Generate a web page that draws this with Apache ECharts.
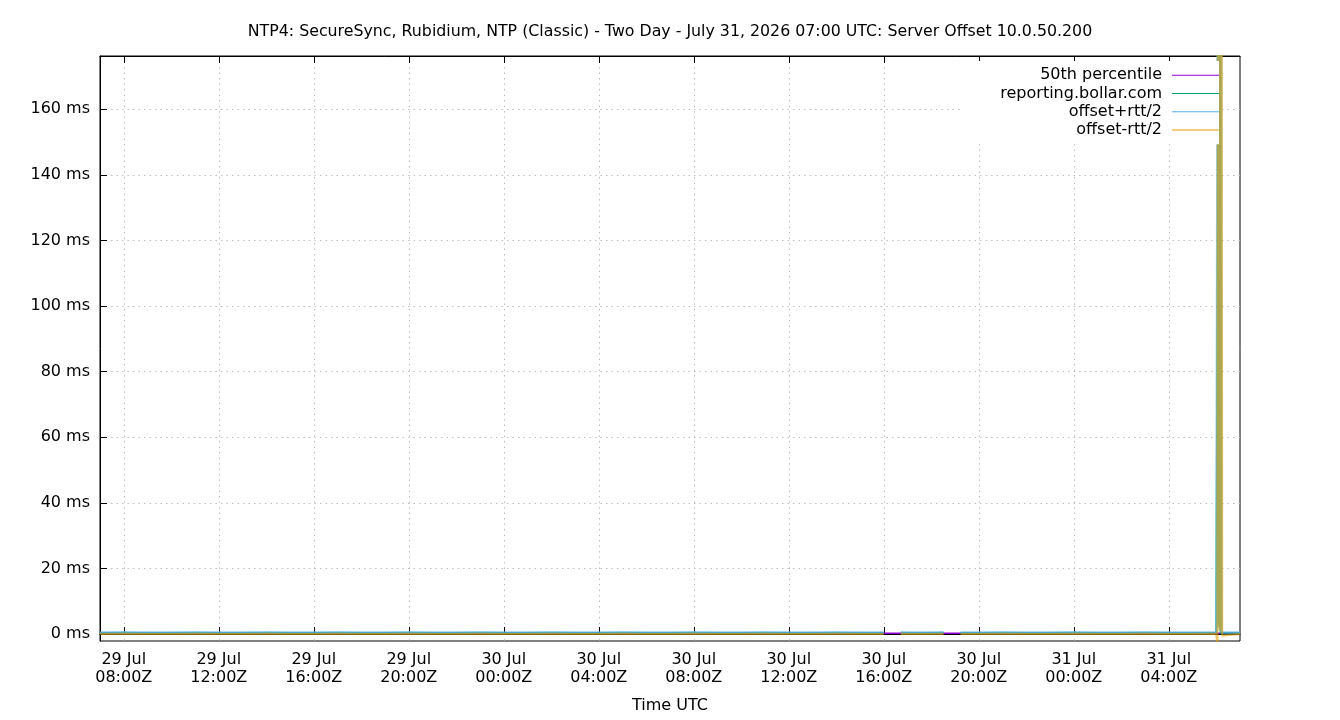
<!DOCTYPE html>
<html>
<head>
<meta charset="utf-8">
<script src="https://cdn.jsdelivr.net/npm/echarts@6/dist/echarts.min.js"></script>
<style>
  html, body { margin: 0; padding: 0; background: #fff; }
  #chart { width: 1340px; height: 720px; }
</style>
</head>
<body>
<div id="chart"></div>
<script>
// hours since 29 Jul 07:00Z
const hours = [
  0, 1, 2, 3, 4, 5, 6, 7, 8, 9, 10, 11, 12, 13, 14, 15, 16, 17, 18, 19,
  20, 21, 22, 23, 24, 25, 26, 27, 28, 29, 30, 31, 32, 33,
  33.02, 33.4, 33.72, 34, 35, 35.52, 35.9, 36.23,
  37, 38, 39, 40, 41, 42, 43, 44, 45, 46, 47,
  47.03, 47.05, 47.07, 47.09, 47.11, 47.13, 47.15, 47.17, 47.19, 47.21, 47.23, 47.25,
  47.3, 48
]

const p50 = [
  0.2, 0.2, 0.2, 0.2, 0.2, 0.2, 0.2, 0.2, 0.2, 0.2, 0.2, 0.2, 0.2, 0.2, 0.2, 0.2, 0.2, 0.2, 0.2, 0.2,
  0.2, 0.2, 0.2, 0.2, 0.2, 0.2, 0.2, 0.2, 0.2, 0.2, 0.2, 0.2, 0.2, 0.2,
  0.2, 0.2, 0.2, 0.2, 0.2, 0.2, 0.2, 0.2,
  0.2, 0.2, 0.2, 0.2, 0.2, 0.2, 0.2, 0.2, 0.2, 0.2, 0.2,
  0.2, 0.2, 0.2, 0.2, 0.2, 0.2, 0.2, 0.3, 0.2, 0.2, 0.2, 0.2,
  0.2, 0.2
]

const reporting = [
  0.25, 0.3, 0.25, 0.3, 0.25, 0.25, 0.3, 0.25, 0.3, 0.25, 0.25, 0.3, 0.25, 0.3, 0.25, 0.25, 0.3, 0.25, 0.3, 0.25,
  0.25, 0.3, 0.25, 0.3, 0.25, 0.25, 0.3, 0.25, 0.3, 0.25, 0.25, 0.3, 0.25, 0.3,
  0.25, null, 0.3, 0.25, 0.3, 0.25, null, 0.3,
  0.25, 0.3, 0.25, 0.3, 0.25, 0.25, 0.3, 0.25, 0.3, 0.25, 0.3,
  0.3, 0.3, 120, 185, 3, 185, 2, 185, 0.3, 0.3, 0.25, 0.3,
  0.25, 0.3
]

const offsetPlus = [
  0.5, 0.55, 0.5, 0.5, 0.55, 0.5, 0.5, 0.55, 0.5, 0.5, 0.55, 0.5, 0.5, 0.55, 0.5, 0.5, 0.55, 0.5, 0.5, 0.55,
  0.5, 0.5, 0.55, 0.5, 0.5, 0.55, 0.5, 0.5, 0.55, 0.5, 0.5, 0.55, 0.5, 0.5,
  0.5, null, 0.55, 0.5, 0.5, 0.55, null, 0.5,
  0.5, 0.55, 0.5, 0.5, 0.55, 0.5, 0.5, 0.55, 0.5, 0.5, 0.55,
  0.5, 185, 3, 185, 2, 185, 1, 185, 150, 185, 0.6, 0.5,
  0.55, 0.5
]

const offsetMinus = [
  0.0, 0.05, 0.0, 0.0, 0.05, 0.0, 0.0, 0.05, 0.0, 0.0, 0.05, 0.0, 0.0, 0.05, 0.0, 0.0, 0.05, 0.0, 0.0, 0.05,
  0.0, 0.0, 0.05, 0.0, 0.0, 0.05, 0.0, 0.0, 0.05, 0.0, 0.0, 0.05, 0.0, 0.0,
  0.0, null, 0.05, 0.0, 0.0, 0.05, null, 0.0,
  0.0, 0.05, 0.0, 0.0, 0.05, 0.0, 0.0, 0.05, 0.0, 0.0, 0.05,
  0.0, -3, 185, 5, 185, 2, 185, 1, 185, 40, 185, -0.5,
  0.0, 0.0
]

// x ticks (hours since start) and their labels
const xTicks = [1, 5, 9, 13, 17, 21, 25, 29, 33, 37, 41, 45]
const xLabels = [
  '29 Jul\n08:00Z', '29 Jul\n12:00Z', '29 Jul\n16:00Z', '29 Jul\n20:00Z',
  '30 Jul\n00:00Z', '30 Jul\n04:00Z', '30 Jul\n08:00Z', '30 Jul\n12:00Z',
  '30 Jul\n16:00Z', '30 Jul\n20:00Z', '31 Jul\n00:00Z', '31 Jul\n04:00Z'
]
const yTicks = [0, 20, 40, 60, 80, 100, 120, 140, 160]

const seriesNames = ['50th percentile', 'reporting.bollar.com', 'offset+rtt/2', 'offset-rtt/2']
const seriesColors = ['#9400d3', '#009e73', '#56b4e9', '#e69f00']
const seriesValues = [p50, reporting, offsetPlus, offsetMinus]
const seriesOpacity = [1, 0.75, 0.65, 0.6]

const font = 'DejaVu Sans'
const chart = echarts.init(document.getElementById('chart'))

const dotted = { color: '#c0c0c0', width: 1, type: [1.5, 4] }

const option = {
  animation: false,
  backgroundColor: '#fff',
  title: {
    text: 'NTP4: SecureSync, Rubidium, NTP (Classic) - Two Day - July 31, 2026 07:00 UTC: Server Offset 10.0.50.200',
    left: 'center',
    top: 19,
    textStyle: { fontFamily: font, fontSize: 15.8, fontWeight: 'normal', color: '#000' }
  },
  legend: {
    orient: 'vertical',
    right: 121,
    top: 61,
    align: 'right',
    icon: 'rect',
    itemWidth: 47,
    itemHeight: 1,
    itemGap: 0,
    padding: [5, 0, 5, 40],
    backgroundColor: '#fff',
    textStyle: { fontFamily: font, fontSize: 16, color: '#000', lineHeight: 18.3, padding: [0, 5, 0, 0] },
    data: seriesNames.map((n, i) => ({ name: n, itemStyle: { color: seriesColors[i], opacity: 1 } }))
  },
  grid: {
    left: 100, right: 100, top: 56, bottom: 79,
    show: true, borderColor: '#000', borderWidth: 1
  },
  xAxis: [
    {
      type: 'value',
      min: 0, max: 48,
      name: 'Time UTC',
      nameLocation: 'middle',
      nameGap: 57,
      nameTextStyle: { fontFamily: font, fontSize: 16, color: '#000' },
      axisLine: { show: true, lineStyle: { color: '#000' } },
      axisTick: { show: true, inside: true, length: 7, customValues: xTicks, lineStyle: { color: '#000' } },
      axisLabel: {
        customValues: xTicks,
        margin: 10,
        fontFamily: font, fontSize: 16, color: '#000', lineHeight: 18,
        formatter: v => xLabels[xTicks.indexOf(v)]
      },
      splitLine: { show: true, lineStyle: dotted }
    },
    {
      type: 'value',
      position: 'top',
      min: 0, max: 48,
      axisLine: { show: true, lineStyle: { color: '#000' } },
      axisTick: { show: true, inside: true, length: 7, customValues: xTicks, lineStyle: { color: '#000' } },
      axisLabel: { show: false },
      splitLine: { show: false }
    }
  ],
  yAxis: {
    type: 'value',
    min: -2.13, max: 176.2,
    axisLine: { show: true, lineStyle: { color: '#000' } },
    axisTick: { show: true, inside: true, length: 7, customValues: yTicks, lineStyle: { color: '#000' } },
    axisLabel: {
      customValues: yTicks,
      margin: 10,
      fontFamily: font, fontSize: 16, color: '#000',
      formatter: v => v + ' ms'
    },
    splitLine: { show: true, lineStyle: dotted }
  },
  series: seriesNames.map((name, i) => ({
    name: name,
    type: 'line',
    xAxisIndex: 0,
    showSymbol: false,
    connectNulls: false,
    color: seriesColors[i],
    lineStyle: { width: i === 0 ? 1.5 : 2.2, opacity: seriesOpacity[i] },
    data: hours.map((h, j) => [h, seriesValues[i][j]])
  }))
}

chart.setOption(option)
</script>
</body>
</html>
